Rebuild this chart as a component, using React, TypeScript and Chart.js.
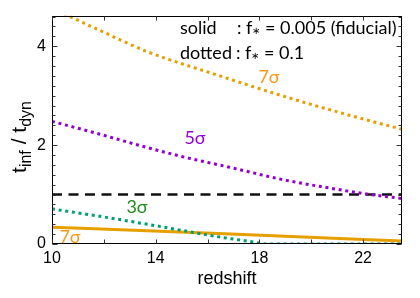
import React, { useEffect, useRef } from "react";
import { Chart, registerables } from "chart.js";

Chart.register(...registerables);

// ---- data ----
const xTicks = [10, 14, 18, 22];
const yTicks = [0, 2, 4];

// dotted, f* = 0.1, 7 sigma
const zDotted7 = [10, 10.62, 11.85, 13.63, 16.36, 18.93, 21.5, 23.5];
const tDotted7 = [4.78, 4.62, 4.32, 3.9, 3.42, 2.99, 2.6, 2.32];

// dotted, f* = 0.1, 5 sigma
const zDotted5 = [10, 11.85, 13.4, 15, 16.87, 18.92, 20.5, 22.3, 23.5];
const tDotted5 = [2.48, 2.22, 1.99, 1.77, 1.55, 1.3, 1.15, 1.0, 0.92];

// dotted, f* = 0.1, 3 sigma
const zDotted3 = [10, 11.85, 13.78, 15.07, 16.36, 17.65, 18.3, 20, 23.5];
const tDotted3 = [0.71, 0.56, 0.39, 0.27, 0.15, 0.05, 0.0, 0, 0];

// solid, f* = 0.005 (fiducial), 7 sigma
const zSolid7 = [10, 14.17, 18.3, 23.5];
const tSolid7 = [0.34, 0.26, 0.17, 0.06];

// t_inf / t_dyn = 1 threshold
const zThreshold = [10, 23.5];
const tThreshold = [1, 1];

const X_MIN = 10;
const X_MAX = 23.5;
const Y_MIN = 0;
const Y_MAX = 4.62;

const ORANGE = "#e69f00";
const PURPLE = "#9400d3";
const GREEN = "#009e73";

const pts = (xs: number[], ys: number[]) => xs.map((x, i) => ({ x, y: ys[i] }));

const LABEL_FONT = "Lato";
const AXIS_FONT = "'Liberation Sans', Arial, sans-serif";

const decor = {
  id: "decor",
  afterDraw(chart: any) {
    const { ctx, chartArea: a, scales } = chart;
    const xs = scales.x;
    const ys = scales.y;
    ctx.save();

    // frame
    ctx.strokeStyle = "#000";
    ctx.lineWidth = 1;
    const L = Math.round(a.left) + 0.5;
    const R = Math.round(a.right) - 0.5;
    const T = Math.round(a.top) + 0.5;
    const B = Math.round(a.bottom) - 0.5;
    ctx.strokeRect(L, T, R - L, B - T);

    // inward ticks
    ctx.strokeStyle = "#333";
    ctx.beginPath();
    for (let i = 0; i <= 6; i++) {
      const v = 10 + i * 2;
      const px = Math.round(xs.getPixelForValue(v)) + 0.5;
      ctx.moveTo(px, B);
      ctx.lineTo(px, B - 4);
      ctx.moveTo(px, T);
      ctx.lineTo(px, T + 4);
    }
    for (let i = 0; i <= 23; i++) {
      const v = i / 5;
      const py = Math.round(ys.getPixelForValue(v)) + 0.5;
      const len = i % 10 === 0 ? 5 : 3;
      ctx.moveTo(L, py);
      ctx.lineTo(L + len, py);
      ctx.moveTo(R, py);
      ctx.lineTo(R - len, py);
    }
    ctx.stroke();

    // curve labels
    ctx.textAlign = "center";
    ctx.textBaseline = "middle";
    ctx.font = `18px ${LABEL_FONT}`;
    ctx.fillStyle = "#f39a1e";
    ctx.fillText("7σ", 269, 77);
    ctx.fillText("7σ", 70, 237);
    ctx.fillStyle = "#9400d3";
    ctx.fillText("5σ", 195, 138);
    ctx.fillStyle = "#1e8c1e";
    ctx.fillText("3σ", 137, 207);

    // legend text
    ctx.fillStyle = "#000";
    ctx.textAlign = "left";
    const drawF = (x0: number, y0: number, rest: string) => {
      ctx.font = `18px ${LABEL_FONT}`;
      let x = x0;
      ctx.fillText(": f", x, y0);
      x += ctx.measureText(": f").width;
      ctx.font = `10px ${LABEL_FONT}`;
      ctx.fillText("∗", x, y0 + 3);
      x += ctx.measureText("∗").width;
      ctx.font = `18px ${LABEL_FONT}`;
      ctx.fillText(rest, x, y0);
    };
    ctx.font = `18px ${LABEL_FONT}`;
    ctx.fillText("solid", 180, 28);
    drawF(237, 28, " = 0.005 (fiducial)");
    ctx.font = `18px ${LABEL_FONT}`;
    ctx.fillText("dotted", 180, 53);
    drawF(236, 53, " = 0.1");

    // x title
    ctx.textAlign = "center";
    ctx.font = `18px ${AXIS_FONT}`;
    ctx.fillText("redshift", 227, 279);

    // y title with subscripts
    ctx.translate(21, 137);
    ctx.rotate(-Math.PI / 2);
    const parts: [string, boolean][] = [
      ["t", false],
      ["inf", true],
      [" / t", false],
      ["dyn", true],
    ];
    const fontFor = (sub: boolean) => (sub ? `16px ${AXIS_FONT}` : `21px ${AXIS_FONT}`);
    let total = 0;
    for (const [s, sub] of parts) {
      ctx.font = fontFor(sub);
      total += ctx.measureText(s).width;
    }
    let cx = -total / 2;
    ctx.textAlign = "left";
    ctx.textBaseline = "alphabetic";
    for (const [s, sub] of parts) {
      ctx.font = fontFor(sub);
      ctx.fillText(s, cx, sub ? 10 : 5);
      cx += ctx.measureText(s).width;
    }

    ctx.restore();
  },
};

export default function App() {
  const ref = useRef<HTMLCanvasElement | null>(null);

  useEffect(() => {
    document.body.style.margin = "0";
    const canvas = ref.current;
    if (!canvas) return;

    const dotted = { borderWidth: 3, borderDash: [3, 3.7], borderCapStyle: "butt" };

    const chart = new Chart(canvas, {
      type: "line",
      data: {
        datasets: [
          {
            label: "3σ dotted",
            data: pts(zDotted3, tDotted3),
            borderColor: GREEN,
            ...dotted,
            order: 0,
          },
          {
            label: "5σ dotted",
            data: pts(zDotted5, tDotted5),
            borderColor: PURPLE,
            ...dotted,
            order: 1,
          },
          {
            label: "7σ dotted",
            data: pts(zDotted7, tDotted7),
            borderColor: ORANGE,
            ...dotted,
            order: 2,
          },
          {
            label: "7σ solid",
            data: pts(zSolid7, tSolid7),
            borderColor: ORANGE,
            borderWidth: 3,
            order: 3,
          },
          {
            label: "threshold",
            data: pts(zThreshold, tThreshold),
            borderColor: "#111",
            borderWidth: 2.5,
            borderDash: [10, 6.5],
            cubicInterpolationMode: "default",
            tension: 0,
            order: 4,
          },
        ] as any,
      },
      options: {
        animation: false,
        responsive: false,
        devicePixelRatio: 1,
        layout: { padding: { left: 0, top: 13, right: 18, bottom: 0 } },
        elements: {
          point: { radius: 0, hoverRadius: 0 },
          line: { cubicInterpolationMode: "monotone", fill: false },
        },
        plugins: {
          legend: { display: false },
          tooltip: { enabled: false },
          title: { display: false },
        },
        scales: {
          x: {
            type: "linear",
            min: X_MIN,
            max: X_MAX,
            afterBuildTicks: (s: any) => {
              s.ticks = xTicks.map((v) => ({ value: v }));
            },
            afterFit: (s: any) => {
              s.height = 54;
            },
            grid: { display: false, drawTicks: false },
            border: { display: false },
            ticks: {
              padding: 5,
              color: "#000",
              font: { family: AXIS_FONT, size: 16 },
              maxRotation: 0,
              autoSkip: false,
            },
          },
          y: {
            type: "linear",
            min: Y_MIN,
            max: Y_MAX,
            afterBuildTicks: (s: any) => {
              s.ticks = yTicks.map((v) => ({ value: v }));
            },
            afterFit: (s: any) => {
              s.width = 52;
            },
            grid: { display: false, drawTicks: false },
            border: { display: false },
            ticks: {
              padding: 6,
              color: "#000",
              font: { family: AXIS_FONT, size: 16 },
              autoSkip: false,
            },
          },
        },
      } as any,
      plugins: [decor],
    });

    return () => chart.destroy();
  }, []);

  return <canvas ref={ref} width={420} height={298} style={{ display: "block" }} />;
}
